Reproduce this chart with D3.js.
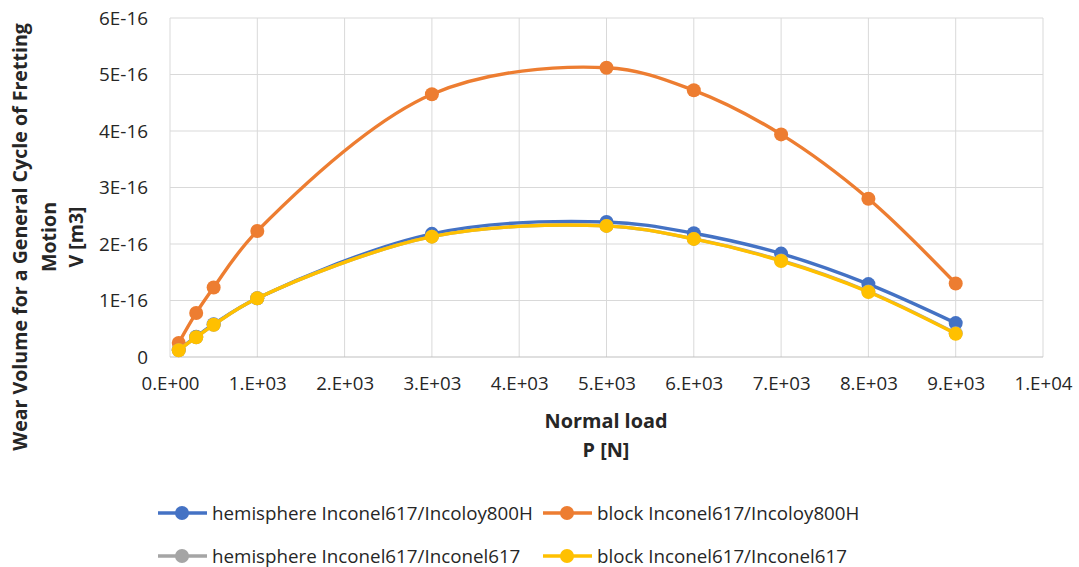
<!DOCTYPE html>
<html>
<head>
<meta charset="utf-8">
<script src="https://cdn.jsdelivr.net/npm/d3@7"></script>
<style>
  body { margin: 0; background: #fff; }
  text { font-family: "Open Sans", sans-serif; fill: #262626; }
</style>
</head>
<body>
<div id="chart"></div>
<script>
// data
const loads = [100, 300, 500, 1000, 3000, 5000, 6000, 7000, 8000, 9000];
const hemiIncoloy = [0.13e-16, 0.36e-16, 0.58e-16, 1.04e-16, 2.18e-16, 2.39e-16, 2.19e-16, 1.83e-16, 1.29e-16, 0.60e-16];
const blockIncoloy = [0.25e-16, 0.78e-16, 1.23e-16, 2.23e-16, 4.65e-16, 5.12e-16, 4.72e-16, 3.94e-16, 2.80e-16, 1.30e-16];
const hemiInconel = [0.12e-16, 0.35e-16, 0.57e-16, 1.04e-16, 2.13e-16, 2.32e-16, 2.09e-16, 1.71e-16, 1.16e-16, 0.42e-16];
const blockInconel = [0.12e-16, 0.35e-16, 0.57e-16, 1.04e-16, 2.13e-16, 2.32e-16, 2.09e-16, 1.70e-16, 1.15e-16, 0.41e-16];
const xTicks = [0, 1000, 2000, 3000, 4000, 5000, 6000, 7000, 8000, 9000, 10000];
const xTickLabels = ["0.E+00", "1.E+03", "2.E+03", "3.E+03", "4.E+03", "5.E+03", "6.E+03", "7.E+03", "8.E+03", "9.E+03", "1.E+04"];
const yTicks = [0, 1e-16, 2e-16, 3e-16, 4e-16, 5e-16, 6e-16];
const yTickLabels = ["0", "1E-16", "2E-16", "3E-16", "4E-16", "5E-16", "6E-16"];

const series = [
  { name: "hemisphere Inconel617/Incoloy800H", values: hemiIncoloy, color: "#4472C4" },
  { name: "block Inconel617/Incoloy800H", values: blockIncoloy, color: "#ED7D31" },
  { name: "hemisphere Inconel617/Inconel617", values: hemiInconel, color: "#A5A5A5" },
  { name: "block Inconel617/Inconel617", values: blockInconel, color: "#FFC000" }
];

const width = 1079;
const height = 567;
const plotLeft = 170, plotRight = 1043, plotTop = 18, plotBottom = 357;

const svg = d3.select("#chart")
              .append("svg")
              .attr("width", width)
              .attr("height", height);

const x = d3.scaleLinear().domain([0, 10000]).range([plotLeft, plotRight]);
const y = d3.scaleLinear().domain([0, 6e-16]).range([plotBottom, plotTop]);

// scale a text's font so it spans w pixels
function fitText(sel, w) {
  const len = sel.node().getComputedTextLength();
  const fs = parseFloat(sel.style("font-size"));
  sel.style("font-size", (fs * w / len) + "px");
  return fs * w / len;
}

// gridlines
svg.append("g")
   .selectAll("line")
   .data(xTicks)
   .enter()
   .append("line")
   .attr("x1", d => x(d)).attr("x2", d => x(d))
   .attr("y1", plotTop).attr("y2", plotBottom)
   .attr("stroke", "#d9d9d9").attr("stroke-width", 1);

svg.append("g")
   .selectAll("line")
   .data(yTicks)
   .enter()
   .append("line")
   .attr("x1", plotLeft).attr("x2", plotRight)
   .attr("y1", d => y(d)).attr("y2", d => y(d))
   .attr("stroke", d => d === 0 ? "#bfbfbf" : "#d9d9d9").attr("stroke-width", 1);

// axes (labels only)
const xAxis = d3.axisBottom(x).tickValues(xTicks).tickSize(0).tickPadding(20)
                .tickFormat((d, i) => xTickLabels[i]);
const yAxis = d3.axisLeft(y).tickValues(yTicks).tickSize(0).tickPadding(22)
                .tickFormat((d, i) => yTickLabels[i]);

const gx = svg.append("g").attr("transform", `translate(0, ${plotBottom})`).call(xAxis);
const gy = svg.append("g").attr("transform", `translate(${plotLeft}, 0)`).call(yAxis);
[gx, gy].forEach(g => {
  g.select(".domain").remove();
  g.selectAll("text")
   .style("font-family", "'Open Sans', sans-serif")
   .style("font-size", "15.5px")
   .style("fill", "#262626");
});
const xTickFs = fitText(gx.select(".tick text"), 58);
gx.selectAll("text").style("font-size", xTickFs + "px");
const yTickFs = fitText(gy.selectAll(".tick text").filter((d, i) => i === 6), 49);
gy.selectAll("text").style("font-size", yTickFs + "px");

// lines
const line = d3.line()
               .x(d => x(d[0]))
               .y(d => y(d[1]))
               .curve(d3.curveCatmullRom.alpha(0.5));

series.forEach(s => {
  const pts = loads.map((l, i) => [l, s.values[i]]);
  svg.append("path")
     .datum(pts)
     .attr("d", line)
     .attr("fill", "none")
     .attr("stroke", s.color)
     .attr("stroke-width", 3.4);
  svg.append("g")
     .selectAll("circle")
     .data(pts)
     .enter()
     .append("circle")
     .attr("cx", d => x(d[0]))
     .attr("cy", d => y(d[1]))
     .attr("r", 7)
     .attr("fill", s.color);
});

// axis titles
const xt1 = svg.append("text")
   .attr("x", 606).attr("y", 428)
   .attr("text-anchor", "middle")
   .style("font-size", "18px").style("font-weight", "bold")
   .text("Normal load");
const titleFs = fitText(xt1, 123);
svg.append("text")
   .attr("x", 606).attr("y", 457)
   .attr("text-anchor", "middle")
   .style("font-size", titleFs + "px").style("font-weight", "bold")
   .text("P [N]");

const yTitle = svg.append("g").attr("transform", "translate(0, 237) rotate(-90)");
const t1 = yTitle.append("text")
   .attr("x", 0).attr("y", 27)
   .attr("text-anchor", "middle")
   .style("font-size", "18px").style("font-weight", "bold")
   .text("Wear Volume for a General Cycle of Fretting");
fitText(t1, 428);
yTitle.append("text")
   .attr("x", 0).attr("y", 56)
   .attr("text-anchor", "middle")
   .style("font-size", t1.style("font-size")).style("font-weight", "bold")
   .text("Motion");
yTitle.append("text")
   .attr("x", 0).attr("y", 83)
   .attr("text-anchor", "middle")
   .style("font-size", t1.style("font-size")).style("font-weight", "bold")
   .text("V [m3]");

// legend
const legendPos = [[158, 513], [543, 513], [158, 556], [543, 556]];
let legendFs = null;
series.forEach((s, i) => {
  const [lx, ly] = legendPos[i];
  const g = svg.append("g").attr("transform", `translate(${lx}, ${ly})`);
  g.append("line").attr("x1", 0).attr("x2", 49).attr("y1", 0).attr("y2", 0)
   .attr("stroke", s.color).attr("stroke-width", 3.4);
  g.append("circle").attr("cx", 24).attr("cy", 0).attr("r", 7).attr("fill", s.color);
  const t = g.append("text").attr("x", 54).attr("y", 0).attr("dy", "0.35em")
   .style("font-size", "16px")
   .text(s.name);
  if (legendFs === null) legendFs = fitText(t, 321);
  else t.style("font-size", legendFs + "px");
});
</script>
</body>
</html>
